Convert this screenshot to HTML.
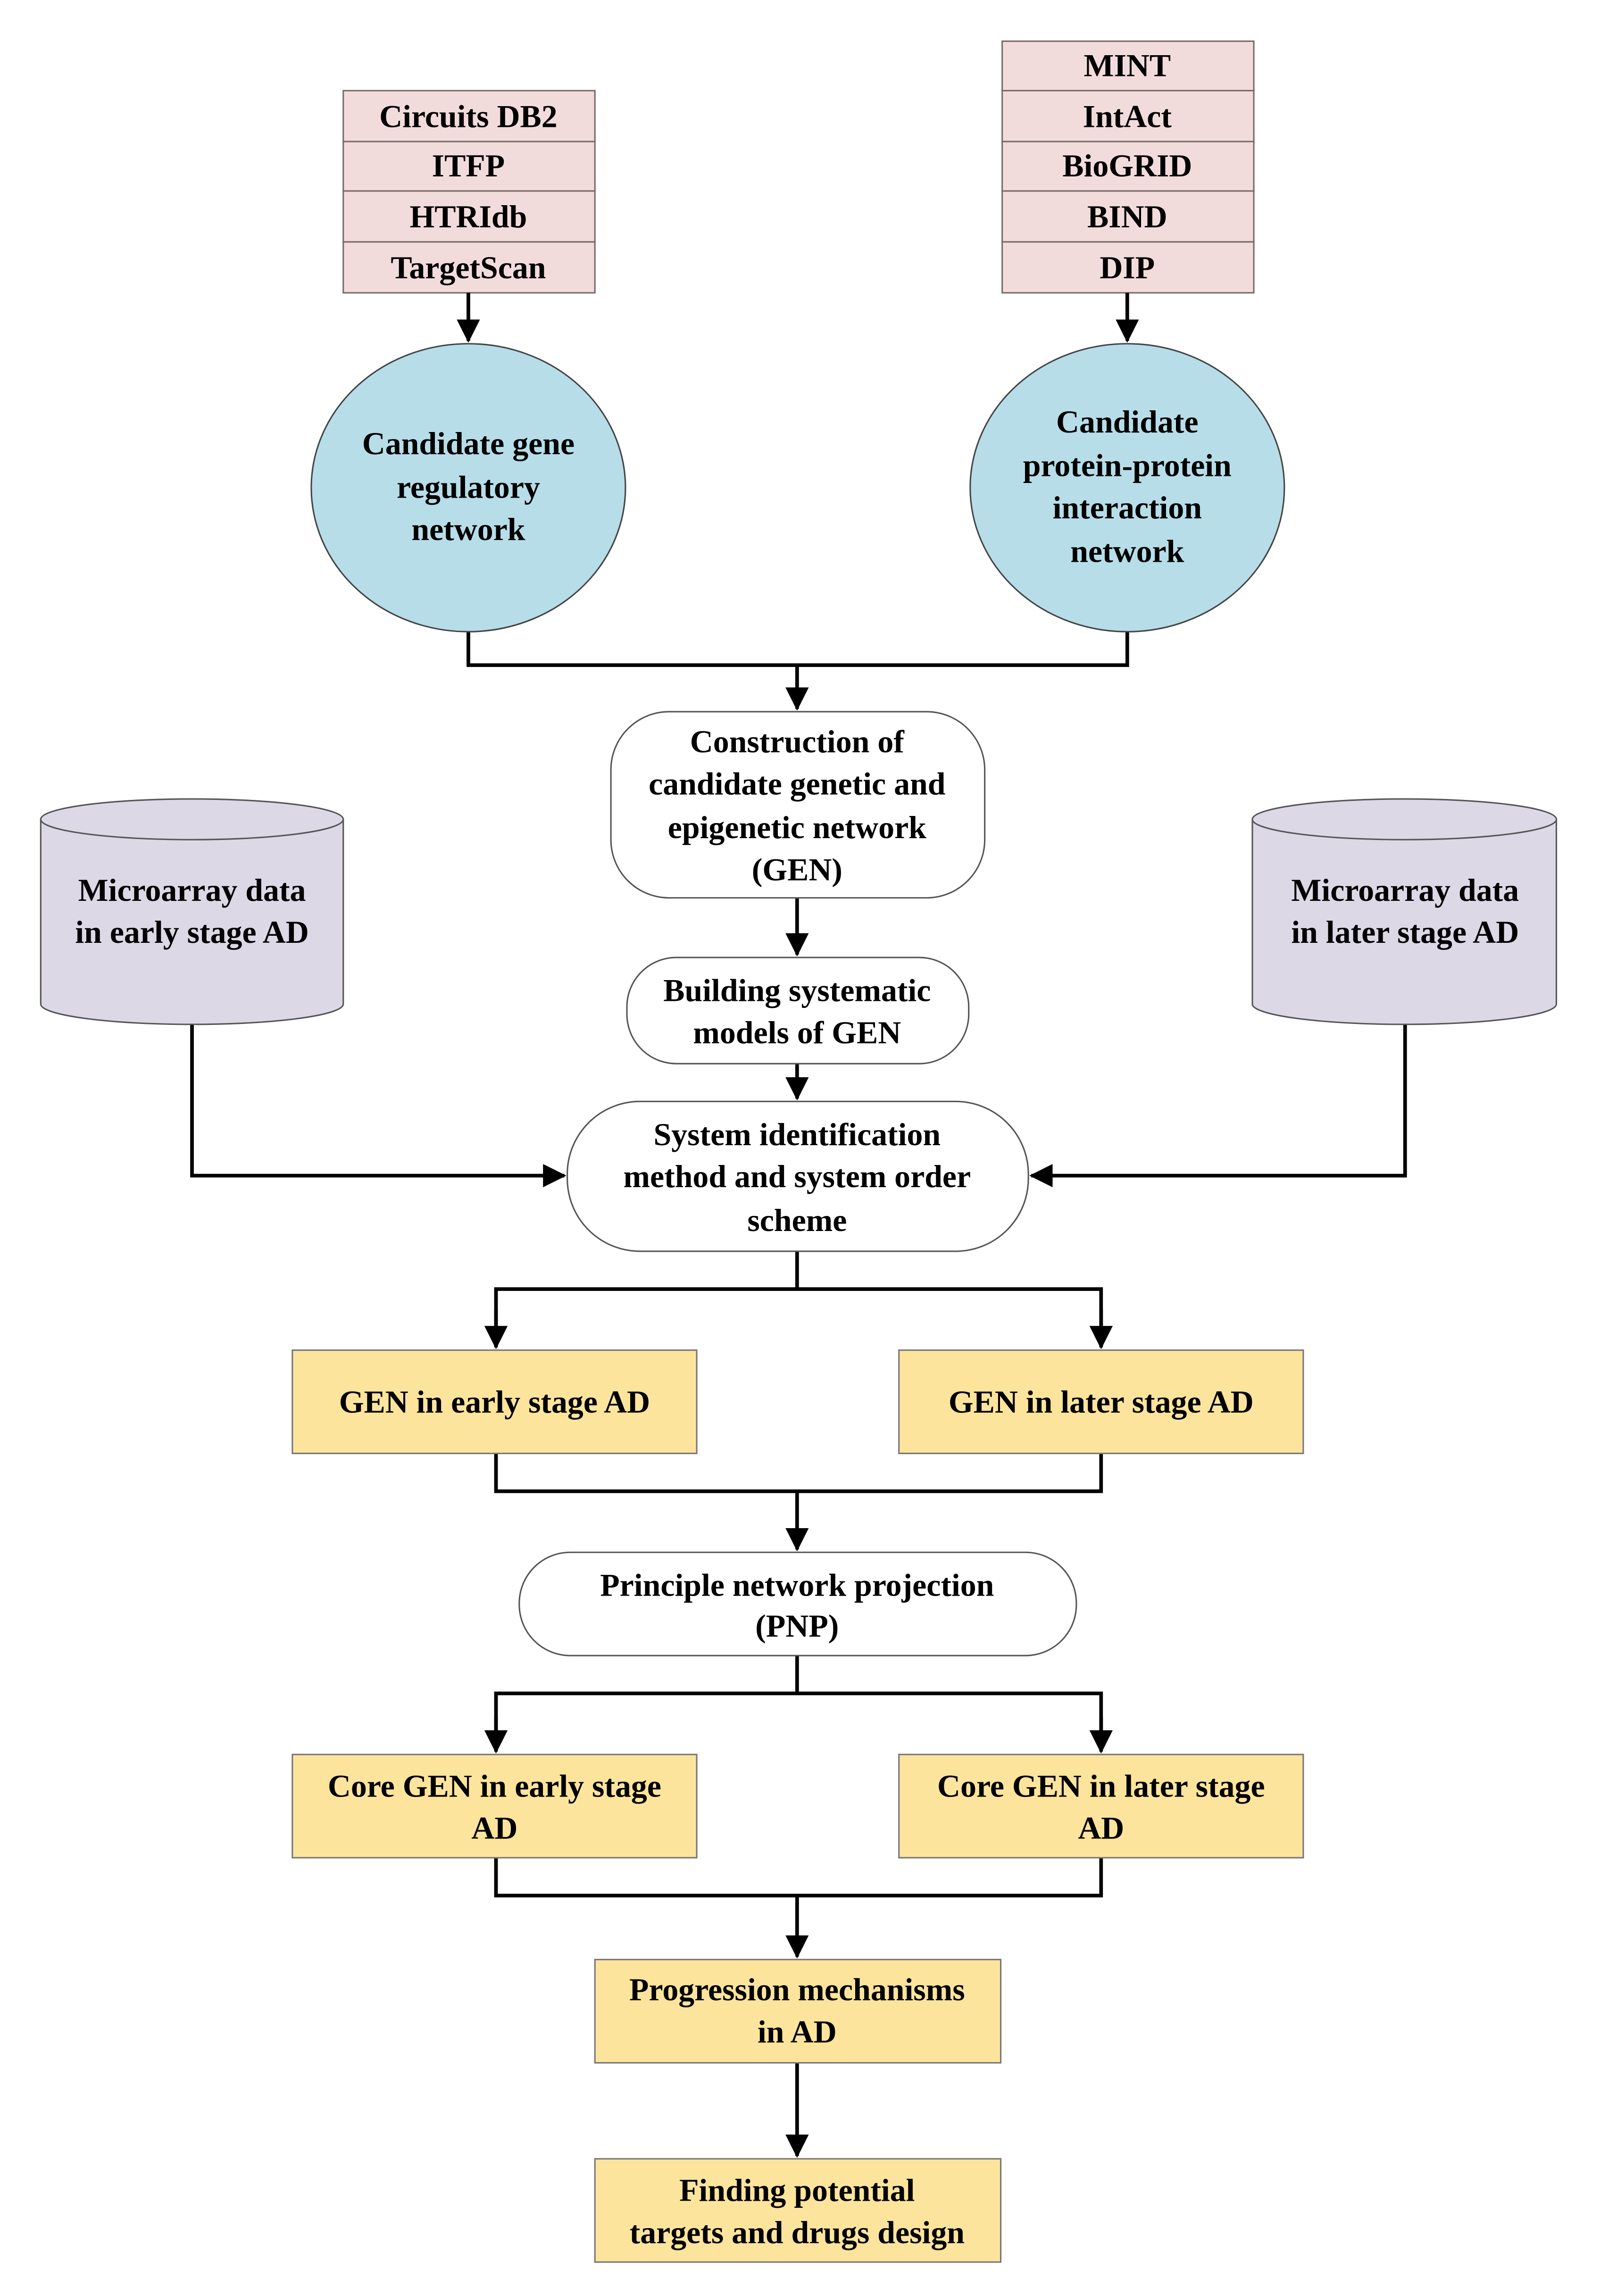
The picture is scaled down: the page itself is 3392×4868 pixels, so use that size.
<!DOCTYPE html>
<html><head><meta charset="utf-8"><style>html,body{margin:0;padding:0;background:#fff}svg{display:block}text{font-family:"Liberation Serif","Times New Roman",serif;font-weight:bold}</style></head>
<body>
<svg xmlns="http://www.w3.org/2000/svg" width="3392" height="4868" viewBox="0 0 1100 1578">
<defs>
<marker id="b" viewBox="0 0 12 12" markerWidth="16" markerHeight="16" refX="11" refY="6" orient="auto" markerUnits="userSpaceOnUse"><path d="M0,0 L12,6 L0,12 Z" fill="#000"/></marker></defs>
<g style="font-family:'Liberation Serif',serif;font-weight:bold" font-size="22" text-anchor="middle" fill="#000">
<g fill="#f2dcdb" stroke="#7a6a6a" stroke-width="1">
<rect x="236" y="62" width="173" height="35"/><rect x="236" y="97" width="173" height="34"/><rect x="236" y="131" width="173" height="35"/><rect x="236" y="166" width="173" height="35"/>
<rect x="689" y="28" width="173" height="34"/><rect x="689" y="62" width="173" height="35"/><rect x="689" y="97" width="173" height="34"/><rect x="689" y="131" width="173" height="35"/><rect x="689" y="166" width="173" height="35"/>
</g>
<text x="322" y="87">Circuits DB2</text><text x="322" y="121">ITFP</text><text x="322" y="156">HTRIdb</text><text x="322" y="191">TargetScan</text>
<text x="775" y="52">MINT</text><text x="775" y="87">IntAct</text><text x="775" y="121">BioGRID</text><text x="775" y="156">BIND</text><text x="775" y="191">DIP</text>
<g stroke="#000" stroke-width="2.5" fill="none">
<line x1="322" y1="201" x2="322" y2="234" marker-end="url(#b)"/><line x1="775" y1="201" x2="775" y2="234" marker-end="url(#b)"/>
<polyline points="322,434 322,457 775,457 775,434"/><line x1="548" y1="457" x2="548" y2="487" marker-end="url(#b)"/>
<line x1="548" y1="617" x2="548" y2="656" marker-end="url(#b)"/>
<line x1="548" y1="731" x2="548" y2="755" marker-end="url(#b)"/>
<polyline points="132,704 132,808 388,808" marker-end="url(#b)"/>
<polyline points="966,704 966,808 709,808" marker-end="url(#b)"/>
<polyline points="548,860 548,886"/><polyline points="341,926 341,886 757,886 757,926"/>
<line x1="341" y1="900" x2="341" y2="926" marker-end="url(#b)"/><line x1="757" y1="900" x2="757" y2="926" marker-end="url(#b)"/>
<polyline points="341,999 341,1025 757,1025 757,999"/><line x1="548" y1="1025" x2="548" y2="1065" marker-end="url(#b)"/>
<polyline points="548,1138 548,1164"/><polyline points="341,1190 341,1164 757,1164 757,1190"/>
<line x1="341" y1="1180" x2="341" y2="1204" marker-end="url(#b)"/><line x1="757" y1="1180" x2="757" y2="1204" marker-end="url(#b)"/>
<polyline points="341,1277 341,1303 757,1303 757,1277"/><line x1="548" y1="1303" x2="548" y2="1345" marker-end="url(#b)"/>
<line x1="548" y1="1418" x2="548" y2="1482" marker-end="url(#b)"/>
</g>
<ellipse cx="322" cy="335" rx="108" ry="99" fill="#b7dde8" stroke="#444" stroke-width="1"/>
<ellipse cx="775" cy="335" rx="108" ry="99" fill="#b7dde8" stroke="#444" stroke-width="1"/>
<text x="322" y="312">Candidate gene</text><text x="322" y="342">regulatory</text><text x="322" y="371">network</text>
<text x="775" y="297">Candidate</text><text x="775" y="327">protein-protein</text><text x="775" y="356">interaction</text><text x="775" y="386">network</text>
<g fill="#dcd8e6" stroke="#555" stroke-width="1">
<path d="M28,563 L28,690 A104,14 0 0 0 236,690 L236,563 Z"/><ellipse cx="132" cy="563" rx="104" ry="14"/>
<path d="M861,563 L861,690 A104.5,14 0 0 0 1070,690 L1070,563 Z"/><ellipse cx="965.5" cy="563" rx="104.5" ry="14"/>
</g>
<text x="132" y="619">Microarray data</text><text x="132" y="648">in early stage AD</text>
<text x="966" y="619">Microarray data</text><text x="966" y="648">in later stage AD</text>
<g fill="#fff" stroke="#555" stroke-width="1">
<rect x="420" y="489" width="257" height="128" rx="40"/>
<rect x="431" y="658" width="235" height="73" rx="34"/>
<rect x="390" y="757" width="317" height="103" rx="50"/>
<rect x="357" y="1067" width="383" height="71" rx="35"/>
</g>
<text x="548" y="517">Construction of</text><text x="548" y="546">candidate genetic and</text><text x="548" y="576">epigenetic network</text><text x="548" y="605">(GEN)</text>
<text x="548" y="688">Building systematic</text><text x="548" y="717">models of GEN</text>
<text x="548" y="787">System identification</text><text x="548" y="816">method and system order</text><text x="548" y="846">scheme</text>
<g fill="#fde49c" stroke="#777" stroke-width="1">
<rect x="201" y="928" width="278" height="71"/><rect x="618" y="928" width="278" height="71"/>
<rect x="201" y="1206" width="278" height="71"/><rect x="618" y="1206" width="278" height="71"/>
<rect x="409" y="1347" width="279" height="71"/><rect x="409" y="1484" width="279" height="71"/>
</g>
<text x="340" y="971">GEN in early stage AD</text><text x="757" y="971">GEN in later stage AD</text>
<text x="548" y="1097">Principle network projection</text><text x="548" y="1125">(PNP)</text>
<text x="340" y="1235">Core GEN in early stage</text><text x="340" y="1264">AD</text>
<text x="757" y="1235">Core GEN in later stage</text><text x="757" y="1264">AD</text>
<text x="548" y="1375">Progression mechanisms</text><text x="548" y="1404">in AD</text>
<text x="548" y="1513">Finding potential</text><text x="548" y="1542">targets and drugs design</text>
</g>
</svg>
</body></html>
